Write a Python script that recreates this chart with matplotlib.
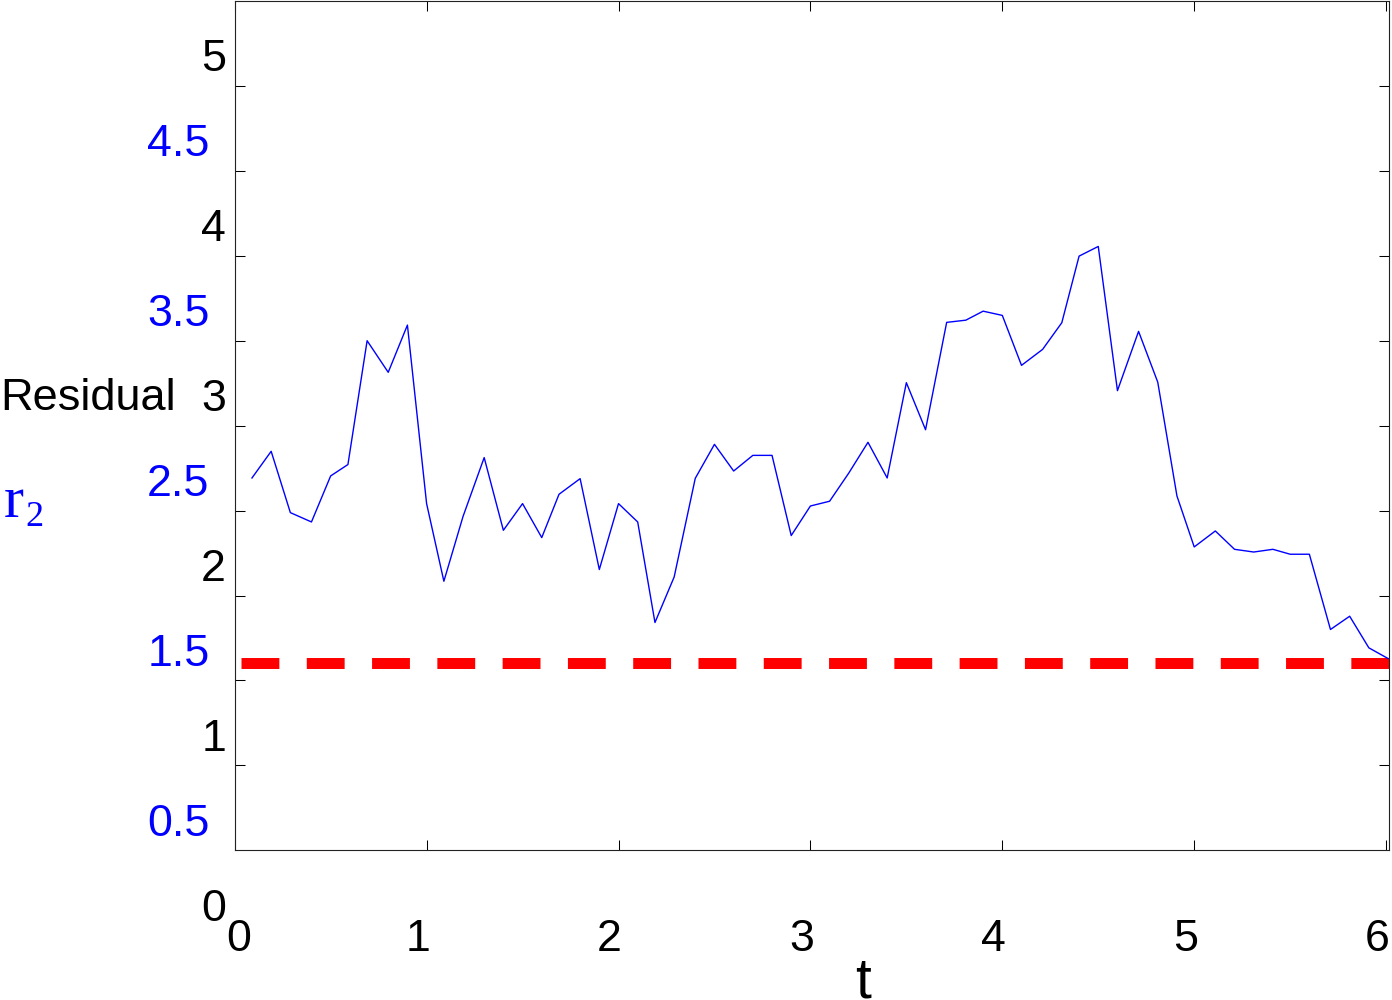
import matplotlib
matplotlib.use("Agg")
import matplotlib.pyplot as plt

# ---- data ----
t = [0.09, 0.19, 0.29, 0.40, 0.50, 0.59, 0.69, 0.80, 0.90, 1.00,
     1.09, 1.19, 1.30, 1.40, 1.50, 1.60, 1.69, 1.80, 1.90, 2.00,
     2.10, 2.19, 2.29, 2.40, 2.50, 2.60, 2.70, 2.80, 2.90, 3.00,
     3.10, 3.20, 3.30, 3.40, 3.50, 3.60, 3.71, 3.81, 3.90, 4.00,
     4.10, 4.21, 4.31, 4.40, 4.50, 4.60, 4.71, 4.81, 4.91, 5.00,
     5.11, 5.21, 5.31, 5.41, 5.50, 5.60, 5.71, 5.81, 5.91, 6.01]
r2 = [2.692, 2.849, 2.488, 2.433, 2.704, 2.771, 3.500, 3.314, 3.592, 2.541,
      2.084, 2.466, 2.812, 2.384, 2.541, 2.341, 2.596, 2.688, 2.153, 2.541,
      2.433, 1.841, 2.109, 2.690, 2.890, 2.733, 2.825, 2.825, 2.353, 2.527,
      2.555, 2.721, 2.902, 2.692, 3.253, 2.976, 3.608, 3.621, 3.674, 3.649,
      3.355, 3.449, 3.606, 3.998, 4.055, 3.206, 3.555, 3.256, 2.586, 2.286,
      2.380, 2.272, 2.256, 2.272, 2.243, 2.243, 1.800, 1.878, 1.692, 1.629]
thr_t = [0.033, 6.02]
thr_val = [1.6, 1.6]

xticks = [0, 1, 2, 3, 4, 5, 6]
xtick_labels = ["0", "1", "2", "3", "4", "5", "6"]
ytick_vals = [1, 1.5, 2, 2.5, 3, 3.5, 4, 4.5, 5]
ylabel_vals = [0, 0.5, 1, 1.5, 2, 2.5, 3, 3.5, 4, 4.5, 5]
ylabel_texts = ["0", "0.5", "1", "1.5", "2", "2.5", "3", "3.5", "4", "4.5", "5"]

W, H = 1392, 1000
fig = plt.figure(figsize=(W / 100, H / 100), dpi=100)
L, R, T, B = 234.7, 1389.0, 1.0, 850.3
ax = fig.add_axes([L / W, 1 - B / H, (R - L) / W, (B - T) / H])

xmax = 6.015
ax.set_xlim(0, xmax)
ax.set_ylim(0.5, 5.5)
px_per_x = (R - L) / xmax
px_per_y = (B - T) / 5.0

ax.plot(thr_t, thr_val, color="#ff0000", lw=7.9, ls=(0, (3.45, 2.5)),
        dash_capstyle="butt", zorder=2)
ax.plot(t, r2, color="#0000ff", lw=1.0, zorder=3)

font = "Liberation Sans"
fs = 32.2

ax.set_xticks(xticks)
ax.set_xticklabels([])
ax.set_yticks(ytick_vals)
ax.set_yticklabels([])
ax.tick_params(direction="in", length=7.2, width=0.75, colors="black",
               top=True, right=True, bottom=True, left=True)
for sp in ax.spines.values():
    sp.set_linewidth(0.8)
    sp.set_color("#222222")

# x tick labels (placed below the axis)
x_base_val = 0.5 - (951 - B) / px_per_y
for xv, lab in zip(xticks, xtick_labels):
    dx = 3.5 if xv == 0 else -9.0
    ax.text(xv + dx / px_per_x, x_base_val, lab, fontsize=fs, family=font,
            ha="center", va="baseline", color="black", clip_on=False)

# y tick labels (offset upwards from the ticks)
y_off = 14.6 / px_per_y
for yv, lab in zip(ylabel_vals, ylabel_texts):
    is_int = float(yv).is_integer()
    xpx = 226.0 if is_int else 209.5
    ax.text((xpx - L) / px_per_x, yv + y_off, lab, fontsize=fs, family=font,
            ha="right", va="baseline", color="black" if is_int else "#0000ff",
            clip_on=False)

# axis titles
fig.text(0 / W, 1 - 410 / H, "Residual", fontsize=32.5, family=font,
         ha="left", va="baseline", color="black")
fig.text(4 / W, 1 - 516.7 / H, "r", fontsize=43, family="Liberation Serif",
         ha="left", va="baseline", color="#0000ff")
fig.text(25 / W, 1 - 526 / H, "2", fontsize=26, family="Liberation Serif",
         ha="left", va="baseline", color="#0000ff")
fig.text(863 / W, 1 - 997 / H, "t", fontsize=41, family=font,
         ha="center", va="baseline", color="black")

fig.savefig("out.png", dpi=100)
